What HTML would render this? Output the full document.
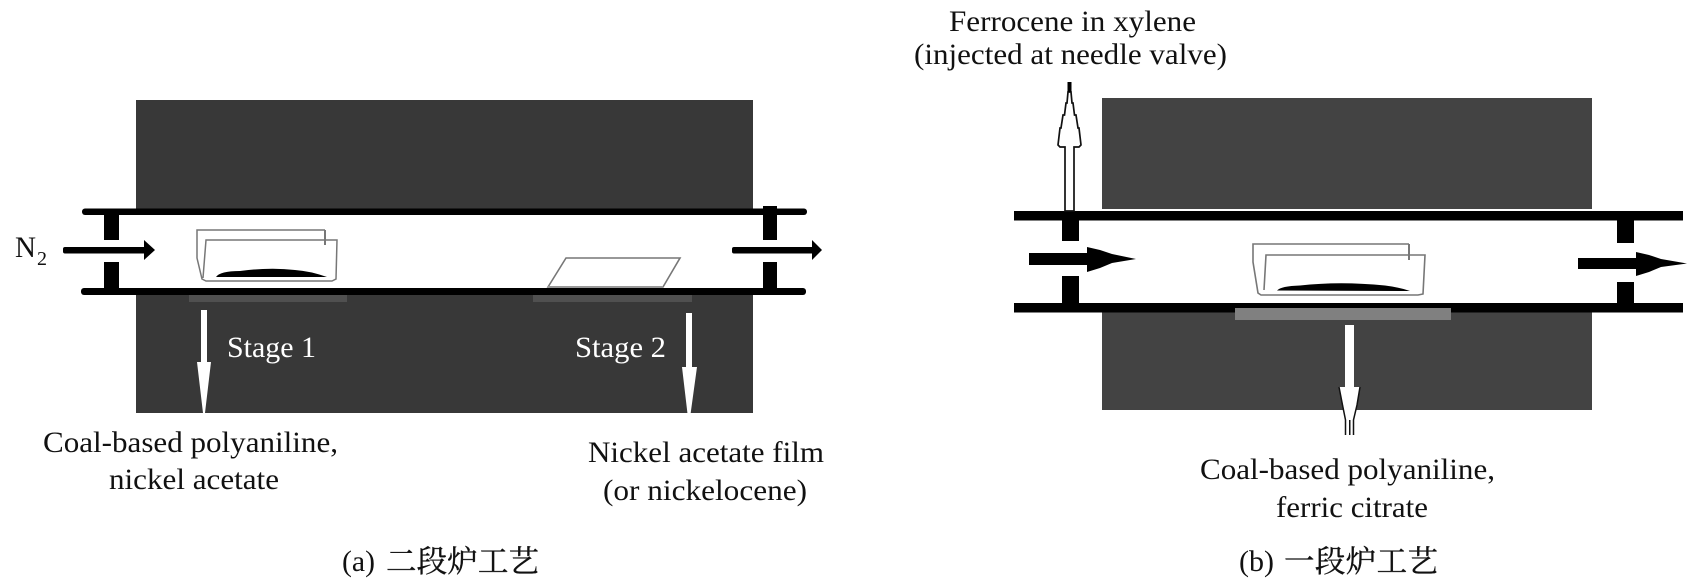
<!DOCTYPE html>
<html><head><meta charset="utf-8"><style>
html,body{margin:0;padding:0;background:#fff;width:1705px;height:582px;overflow:hidden}
svg{display:block;filter:blur(.35px)}
text{font-family:"Liberation Serif","Noto Serif CJK SC",serif;font-size:30px;fill:#111}
.w{fill:#fff}
.c{font-size:30.500px;stroke:#111;stroke-width:.35px}
</style></head><body>
<svg width="1705" height="582" viewBox="0 0 1705 582" xmlns="http://www.w3.org/2000/svg">
<!-- LEFT -->
<rect x="136" y="100" width="617" height="313" fill="#383838"/>
<rect x="136" y="214" width="617" height="75" fill="#fff"/>
<rect x="189" y="292" width="158" height="10" fill="#505050"/>
<rect x="533" y="292" width="159" height="10" fill="#505050"/>
<rect x="82" y="208.500" width="725" height="6.500" rx="3" fill="#000"/>
<rect x="81" y="288" width="725" height="7" rx="3" fill="#000"/>
<rect x="104" y="209" width="15" height="31" fill="#000"/>
<rect x="104" y="262" width="15" height="27" fill="#000"/>
<rect x="763" y="206" width="14" height="34" fill="#000"/>
<rect x="763" y="262" width="14" height="27" fill="#000"/>
<rect x="63" y="247" width="84" height="6.500" rx="2" fill="#000"/>
<polygon points="144,240 155,250 144,260" fill="#000"/>
<rect x="732" y="247" width="84" height="6.500" rx="2" fill="#000"/>
<polygon points="812,240 822,250 812,260" fill="#000"/>
<!-- boat left -->
<g fill="none" stroke="#777" stroke-width="1.500">
<path d="M325,230 H197 V258 L202,279 L206,281 H332 L336,279 L337,240 H206 L203,278"/>
<path d="M325,230 V245" stroke-width="2"/>
</g>
<path d="M216,277 Q220,271 240,271 Q270,267 295,270 Q310,271 327,277 Z" fill="#000"/>
<polygon points="548,287 566,258 680,258 663,287" fill="#fff" stroke="#777" stroke-width="1.600"/>
<rect x="548" y="286" width="115" height="2" fill="#999"/>
<!-- white arrows left -->
<polygon points="201,310 207,310 207,362 211,362 205,413 203,413 197,362 201,362" fill="#fff"/>
<polygon points="686,313 692,313 692,367 697,367 690,418 688,418 682,367 686,367" fill="#fff"/>
<text x="15" y="257" textLength="21" lengthAdjust="spacingAndGlyphs">N</text>
<text x="37" y="265" style="font-size:20px">2</text>
<text class="w" x="227" y="357" textLength="89" lengthAdjust="spacingAndGlyphs">Stage 1</text>
<text class="w" x="575" y="357" textLength="91" lengthAdjust="spacingAndGlyphs">Stage 2</text>
<text x="43" y="452" textLength="295" lengthAdjust="spacingAndGlyphs">Coal-based polyaniline,</text>
<text x="109" y="489" textLength="170" lengthAdjust="spacingAndGlyphs">nickel acetate</text>
<text x="588" y="462" textLength="236" lengthAdjust="spacingAndGlyphs">Nickel acetate film</text>
<text x="603" y="500" textLength="204" lengthAdjust="spacingAndGlyphs">(or nickelocene)</text>
<text x="342" y="571" textLength="33" lengthAdjust="spacingAndGlyphs">(a)</text>
<text class="c" x="386" y="572" textLength="153" lengthAdjust="spacing">二段炉工艺</text>
<!-- RIGHT -->
<rect x="1102" y="98" width="490" height="111" fill="#434343"/>
<rect x="1102" y="312" width="490" height="98" fill="#434343"/>
<rect x="1014" y="211" width="669" height="9.500" fill="#000"/>
<rect x="1014" y="303" width="669" height="9.500" fill="#000"/>
<rect x="1235" y="308" width="216" height="12" fill="#808080"/>
<rect x="1062" y="220" width="17" height="21" fill="#000"/>
<rect x="1062" y="276" width="17" height="27" fill="#000"/>
<rect x="1617" y="220" width="17" height="23" fill="#000"/>
<rect x="1617" y="282" width="17" height="22" fill="#000"/>
<polygon points="1029,253 1087,253 1087,247 1100,250 1112,254 1136,259 1112,263 1100,268 1087,272 1087,265 1029,265" fill="#000"/>
<polygon points="1578,258 1636,258 1636,252 1649,255 1661,259 1687,263.500 1661,267 1649,272 1636,276 1636,269 1578,269" fill="#000"/>
<!-- up arrow -->
<polygon points="1065,211 1065,147 1060,147 1058,145 1060,128 1061,128 1063,115 1064.500,115 1066,103 1067,103 1068,92 1071,92 1072,103 1073,103 1074.500,115 1076,115 1078,128 1079,128 1081,145 1079,147 1074,147 1074,211" fill="#fff" stroke="#111" stroke-width="1.700"/>
<rect x="1067.500" y="82" width="4" height="10" fill="#000"/>
<!-- down arrow -->
<polygon points="1345,325 1354,325 1354,387 1360,387 1357,405 1354,420 1354,435 1346,435 1346,420 1343,405 1339,387 1345,387" fill="#fff"/>
<path d="M1339,387 L1342.500,405 L1345.500,420 V435 M1360,387 L1357,405 L1353.500,420 V435" fill="none" stroke="#111" stroke-width="1.500"/>
<rect x="1349" y="420" width="1.500" height="15" fill="#111"/>
<!-- boat right -->
<g fill="none" stroke="#777" stroke-width="1.600">
<path d="M1409,244 H1253 V262 L1258,293 L1261,295 H1418 L1423,294 L1425,255 H1266 L1264,290"/>
<path d="M1409,244 V260" stroke-width="2"/>
</g>
<path d="M1277,290.500 Q1281,286 1300,285.500 Q1340,281 1385,285.500 Q1398,287 1410,291 Z" fill="#000"/>
<text x="949" y="31" textLength="247" lengthAdjust="spacingAndGlyphs">Ferrocene in xylene</text>
<text x="914" y="64" textLength="313" lengthAdjust="spacingAndGlyphs">(injected at needle valve)</text>
<text x="1200" y="479" textLength="295" lengthAdjust="spacingAndGlyphs">Coal-based polyaniline,</text>
<text x="1276" y="517" textLength="152" lengthAdjust="spacingAndGlyphs">ferric citrate</text>
<text x="1239" y="571" textLength="35" lengthAdjust="spacingAndGlyphs">(b)</text>
<text class="c" x="1284" y="572" textLength="154" lengthAdjust="spacing">一段炉工艺</text>
</svg>
</body></html>
